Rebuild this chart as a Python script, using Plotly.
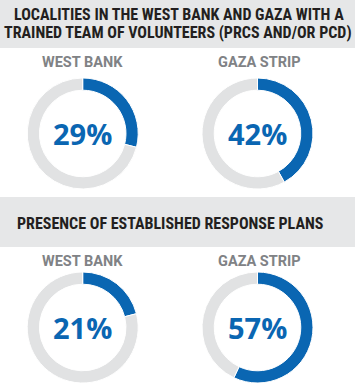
import plotly.graph_objects as go

W, H = 355, 387

title1_lines = ["LOCALITIES IN THE WEST BANK AND GAZA WITH A",
                "TRAINED TEAM OF VOLUNTEERS (PRCS AND/OR PCD)"]
title2 = "PRESENCE OF ESTABLISHED RESPONSE PLANS"
regions = ["WEST BANK", "GAZA STRIP"]
volunteers_pct = [29, 42]
plans_pct = [21, 57]

BLUE = "#0a66b2"
GRAY = "#e1e2e3"
BAND = "#e6e7e8"
TITLE_FONT = "Roboto Condensed, DejaVu Sans Condensed, sans-serif"
LABEL_FONT = "Roboto, sans-serif"
PCT_FONT = "Open Sans, sans-serif"

fig = go.Figure()

R = 55.5
centers_x = [82.7, 257.5]
centers_y = [133.5, 327.5]
label_y = [62.5, 261]
rows = [volunteers_pct, plans_pct]


def px_x(v):
    return v / W


def px_y(v):
    return 1 - v / H


for ri, vals in enumerate(rows):
    cy = centers_y[ri]
    for ci, v in enumerate(vals):
        cx = centers_x[ci]
        fig.add_trace(go.Pie(
            values=[v, 100 - v],
            labels=["Yes", "No"],
            hole=0.78,
            sort=False,
            direction="clockwise",
            rotation=0,
            textinfo="none",
            hoverinfo="skip",
            showlegend=False,
            marker=dict(colors=[BLUE, GRAY], line=dict(color="white", width=1)),
            domain=dict(x=[px_x(cx - R), px_x(cx + R)], y=[px_y(cy + R), px_y(cy - R)]),
        ))
        fig.add_annotation(x=px_x(cx), y=px_y(cy), xref="paper", yref="paper",
                           text=f"<b>{v}%</b>", showarrow=False,
                           font=dict(family=PCT_FONT, size=29, color=BLUE),
                           xanchor="center", yanchor="middle")
        fig.add_annotation(x=px_x(cx + (2 if ci else 0)), y=px_y(label_y[ri]), xref="paper", yref="paper",
                           text=f"<b>{regions[ci]}</b>", showarrow=False,
                           font=dict(family=LABEL_FONT, size=14.5, color="#808285"),
                           xanchor="center", yanchor="middle")

shapes = [
    dict(type="rect", xref="paper", yref="paper", x0=0, x1=1, y0=px_y(48), y1=px_y(0),
         fillcolor=BAND, line=dict(width=0), layer="below"),
    dict(type="rect", xref="paper", yref="paper", x0=0, x1=1, y0=px_y(247), y1=px_y(197),
         fillcolor=BAND, line=dict(width=0), layer="below"),
]

for li, (line, yy, xx) in enumerate(zip(title1_lines, [15, 32.3], [178.5, 177.5])):
    fig.add_annotation(x=px_x(xx), y=px_y(yy), xref="paper", yref="paper",
                       text=f"<b>{line}</b>", showarrow=False,
                       font=dict(family=TITLE_FONT, size=16, color="#231f20"),
                       xanchor="center", yanchor="middle")
fig.add_annotation(x=px_x(170.5), y=px_y(224), xref="paper", yref="paper",
                   text=f"<b>{title2}</b>", showarrow=False,
                   font=dict(family=TITLE_FONT, size=16, color="#231f20"),
                   xanchor="center", yanchor="middle")

fig.update_layout(width=W, height=H, margin=dict(l=0, r=0, t=0, b=0),
                  paper_bgcolor="white", plot_bgcolor="white", shapes=shapes)

fig.write_html("out.html", config={"displayModeBar": False},
               post_script="document.body.style.margin='0';document.body.style.overflow='hidden';")
